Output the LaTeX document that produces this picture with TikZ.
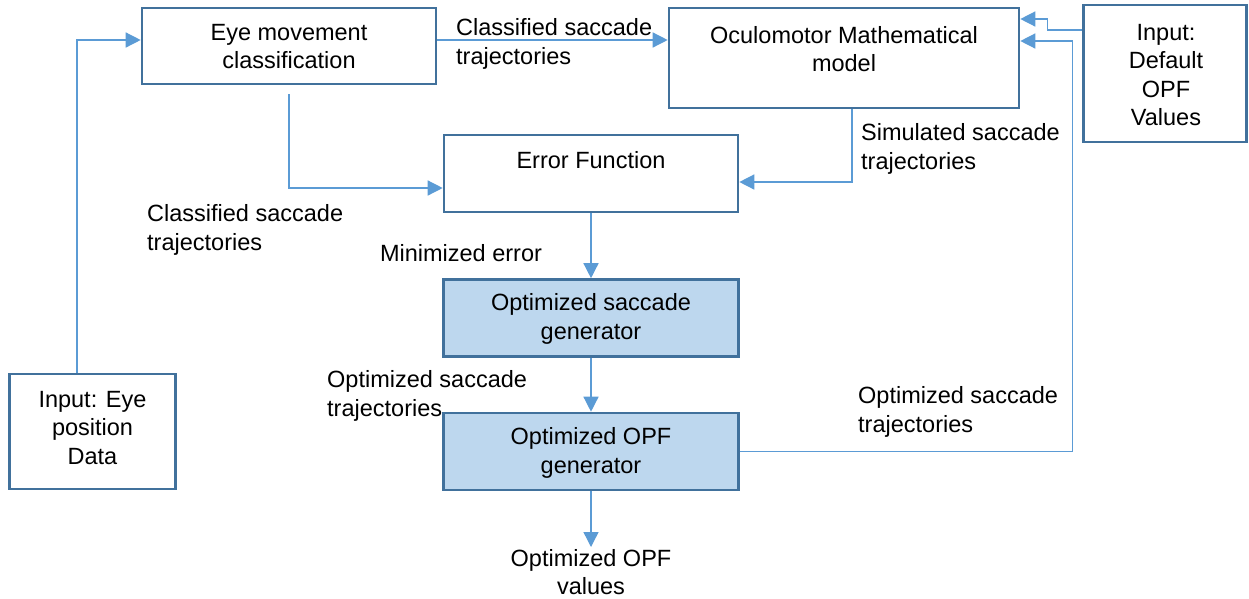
\documentclass[tikz,border=0pt]{standalone}
\usepackage{fontspec}
\setmainfont{Liberation Sans}
\usetikzlibrary{arrows.meta}
\definecolor{boxc}{HTML}{41719C}
\definecolor{linec}{HTML}{5B9BD5}
\definecolor{fillc}{HTML}{BDD7EE}
\begin{document}
\begin{tikzpicture}[x=1pt,y=-1pt,
  box/.style={draw=boxc,line width=2.6pt,inner sep=0pt,fill=white},
  bluebox/.style={box,fill=fillc},
  txt/.style={inner sep=0pt,align=center,font=\fontsize{23.5}{28.5}\selectfont},
  lbl/.style={inner sep=0pt,align=left,anchor=west,font=\fontsize{23.5}{28.5}\selectfont},
  conn/.style={draw=linec,line width=1.4pt,-{Triangle[length=15pt,width=15pt]}},
  plain/.style={draw=linec,line width=1.4pt}]
\useasboundingbox (0,0) rectangle (1249,598);
% boxes
\node[box,minimum width=294pt,minimum height=76pt] (eye) at (289,46) {};
\node[box,minimum width=350pt,minimum height=100pt] (om) at (844,58) {};
\node[box,minimum width=163pt,minimum height=137pt] (def) at (1165,73.5) {};
\node[box,minimum width=294pt,minimum height=77pt] (err) at (591,173.5) {};
\node[bluebox,minimum width=295pt,minimum height=77pt] (sg) at (591,318) {};
\node[bluebox,minimum width=295pt,minimum height=77pt] (og) at (591,451.5) {};
\node[box,minimum width=166pt,minimum height=115pt] (inp) at (92.5,431.5) {};
% box texts
\node[txt] (eyeT) at (289,46.5) {Eye movement\\classification};
\node[txt] (omT) at (844,49) {Oculomotor Mathematical\\model};
\node[txt] (defT) at (1166,75) {Input:\\Default\\OPF\\Values};
\node[txt] (errT) at (591,160) {Error Function};
\node[txt] (sgT) at (591,319) {Optimized saccade\\generator};
\node[txt] (ogT) at (591,453) {Optimized OPF\\generator};
\node[txt] (inpT) at (92.5,428) {Input: Eye\\position\\Data};
% labels
\node[lbl] (l1) at (456,44) {Classified saccade\\trajectories};
\node[lbl] (l2) at (861,149) {Simulated saccade\\trajectories};
\node[lbl] (l3) at (147,230) {Classified saccade\\trajectories};
\node[txt] (l4) at (461,253) {Minimized error};
\node[lbl] (l5) at (327,396) {Optimized saccade\\trajectories};
\node[lbl] (l6) at (858,412) {Optimized saccade\\trajectories};
\node[txt] (l7) at (591,572) {Optimized OPF\\values};
\coordinate (outend) at (591,547);
% connectors
\draw[conn] ([xshift=-15.5pt]inp.north) |- ([yshift=6pt]eye.west);
\draw[conn] ([yshift=6pt]eye.east) -- ([yshift=6pt]eye.east -| om.west);
\draw[conn] ([yshift=-9pt]eye.south) |- ([yshift=-14.5pt]err.west);
\draw[conn] ([xshift=8pt]om.south) |- ([yshift=-8.5pt]err.east);
\draw[conn] (err.south) -- (sg.north);
\draw[conn] (sg.south) -- (og.north);
\draw[conn] (og.south) -- (outend);
\draw[conn] (og.east) -| ([xshift=52pt,yshift=17pt]om.east) -- ([yshift=17pt]om.east);
\draw[conn] ([yshift=43.5pt]def.west) -- ++(-35pt,0) |- ([yshift=39pt]om.east);
\end{tikzpicture}
\end{document}
